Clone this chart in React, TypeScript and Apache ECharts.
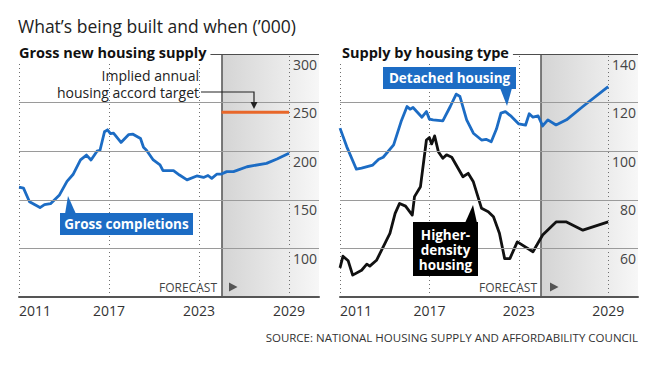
import React, { useEffect, useRef } from 'react';
import * as echarts from 'echarts';

// ---- data (thousands of dwellings) ----
const xTicks = [2011, 2017, 2023, 2029];
const forecastStart = 2024.5;

const grossYears = [2011, 2011.3, 2011.7, 2012.4, 2012.7, 2013.1, 2013.7, 2014.2, 2014.6, 2015.1, 2015.5, 2015.8, 2016.2, 2016.4, 2016.7, 2016.9, 2017.1, 2017.3, 2017.8, 2018.3, 2018.6, 2019.1, 2019.3, 2019.5, 2019.95, 2020.4, 2020.6, 2021.3, 2021.7, 2022.2, 2022.85, 2023.3, 2023.6, 2023.85, 2024.2, 2024.5, 2024.85, 2025.3, 2026.2, 2027.5, 2028.2, 2029];
const grossValues = [163, 162, 148, 142, 145, 146, 155, 169, 176, 191, 196, 191, 200, 201, 220, 222, 218, 218.5, 209, 217, 217.5, 213, 204, 201, 191, 186, 180, 180, 175.5, 170.5, 174.5, 173, 175, 172, 176.5, 176.5, 179, 179, 184, 187.5, 192, 198];

const targetYears = [2024.5, 2029];
const targetValues = [240, 240];

const detachedYears = [2011, 2011.45, 2012.1, 2012.45, 2013.2, 2013.6, 2013.9, 2014.6, 2015.1, 2015.5, 2015.7, 2015.9, 2016.5, 2016.8, 2017.0, 2017.25, 2017.9, 2018.4, 2018.8, 2019.05, 2019.5, 2019.95, 2020.5, 2020.8, 2021.15, 2021.5, 2021.8, 2022.1, 2022.5, 2023.0, 2023.45, 2023.7, 2023.95, 2024.3, 2024.6, 2024.95, 2025.5, 2026.2, 2027.3, 2029];
const detachedValues = [109.5, 101.9, 92.6, 93, 94.3, 96.7, 97.5, 102.6, 112.2, 118.4, 117.3, 118, 114, 116.3, 113.2, 112.9, 112.5, 118.4, 123.5, 122.5, 112.9, 107.4, 104.6, 104.9, 103.9, 109.1, 115.7, 116.3, 114.3, 111.2, 110.7, 115.4, 114, 114.5, 110.4, 112.9, 110.8, 112.9, 118.4, 126.6];

const densityYears = [2011, 2011.2, 2011.55, 2011.85, 2012.45, 2012.8, 2013.0, 2013.45, 2013.9, 2014.35, 2014.7, 2015.0, 2015.4, 2015.85, 2016.0, 2016.4, 2016.8, 2017.0, 2017.15, 2017.35, 2017.6, 2017.9, 2018.15, 2018.5, 2019.25, 2019.6, 2019.95, 2020.5, 2020.95, 2021.3, 2021.7, 2022.05, 2022.4, 2022.9, 2023.95, 2024.3, 2024.6, 2025.5, 2026.2, 2027.3, 2029];
const densityValues = [52, 56.8, 54.9, 49, 51, 53.5, 52.7, 55.1, 60.6, 66.2, 74.4, 78.5, 77.4, 73.7, 81.3, 85.4, 104.6, 105.6, 103, 106.3, 99.8, 97.1, 98.5, 97.5, 89.5, 90.9, 87.4, 76.5, 75.1, 73, 66.2, 55.8, 55.8, 62.7, 58.6, 62.3, 65.5, 70.9, 70.9, 67.5, 70.9];

const pair = (xs: number[], ys: number[]) => xs.map((x, i) => [x, ys[i]]);

export default function App() {
  const ref = useRef<HTMLDivElement>(null);

  useEffect(() => {
    const chart = echarts.init(ref.current!, null, { renderer: 'svg' });
    const F = '"Open Sans", sans-serif';
    const blue = '#1c6cc4';
    const gridColors = ['#9a9a9a', '#9a9a9a', '#9a9a9a', '#9a9a9a', '#9a9a9a', '#4d4d4d'];

    const shade = () =>
      new echarts.graphic.LinearGradient(0, 0, 1, 0, [
        { offset: 0, color: '#d4d4d4' },
        { offset: 1, color: '#f7f7f7' },
      ]);

    const xAxis = (gi: number) => ({
      type: 'value',
      gridIndex: gi,
      z: 10,
      min: 2011,
      max: 2031,
      axisLine: { show: true, lineStyle: { color: '#555', width: 2 } },
      axisTick: { show: false },
      splitLine: { show: false },
      axisLabel: {
        customValues: xTicks,
        alignMinLabel: 'left',
        margin: 6,
        fontSize: 14,
        fontFamily: F,
        color: '#333',
        formatter: (v: number) => String(v),
      },
    });

    const yAxis = (gi: number, min: number, max: number, interval: number) => ({
      type: 'value',
      gridIndex: gi,
      z: 10,
      position: 'right',
      min,
      max,
      interval,
      axisLine: { show: false },
      axisTick: { show: false },
      splitLine: { show: true, lineStyle: { color: gridColors, width: 1 } },
      axisLabel: {
        inside: true,
        margin: 2,
        verticalAlign: 'top',
        padding: [3, 0, 0, 0],
        fontSize: 14,
        fontFamily: F,
        color: '#444',
        formatter: (v: number) => (v === min ? '' : String(v)),
      },
    });

    const backdrop = (i: number) => ({
      type: 'line',
      xAxisIndex: i,
      yAxisIndex: i,
      data: [],
      z: 1,
      silent: true,
      markArea: {
        silent: true,
        itemStyle: { color: shade() },
        data: [[{ xAxis: forecastStart }, { xAxis: 2031 }]],
      },
      markLine: {
        silent: true,
        symbol: 'none',
        label: { show: false },
        data: [
          ...xTicks.map((t) => ({ xAxis: t, lineStyle: { type: [1, 3], color: '#6f6f6f', width: 1 } })),
          { xAxis: forecastStart, lineStyle: { type: 'solid', color: '#555', width: 1.5 } },
        ],
      },
    });

    const line = (i: number, data: number[][], color: string, width = 2.8) => ({
      type: 'line',
      xAxisIndex: i,
      yAxisIndex: i,
      data,
      z: 5,
      symbol: 'none',
      lineStyle: { color, width, cap: 'butt', join: 'round' },
    });

    const txt = (x: number, y: number, text: string, extra: any = {}) => ({
      type: 'text',
      x,
      y,
      z: 100,
      style: { text, font: `14px ${F}`, fill: '#222', verticalAlign: 'middle', ...extra },
    });

    const poly = (points: number[][], fill: string) => ({
      type: 'polygon',
      z: 100,
      shape: { points },
      style: { fill },
    });

    chart.setOption({
      animation: false,
      backgroundColor: '#fff',
      grid: [
        { left: 19, top: 54, width: 300, height: 243 },
        { left: 340, top: 54, width: 298, height: 243 },
      ],
      xAxis: [xAxis(0), xAxis(1)],
      yAxis: [yAxis(0, 50, 300, 50), yAxis(1, 40, 140, 20)],
      series: [
        backdrop(0),
        backdrop(1),
        line(0, pair(targetYears, targetValues), '#e8672a', 3),
        line(0, pair(grossYears, grossValues), blue),
        line(1, pair(detachedYears, detachedValues), blue),
        line(1, pair(densityYears, densityValues), '#111'),
      ],
      graphic: [
        txt(18, 25.5, 'What’s being built and when (’000)', { font: `17.5px ${F}`, fill: '#222' }),
        txt(19, 52, 'Gross new housing supply', {
          font: `bold 14.5px ${F}`,
          fill: '#111',
          backgroundColor: '#fff',
          padding: [3, 4, 3, 0],
        }),
        txt(340, 52, 'Supply by housing type', {
          font: `bold 14.5px ${F}`,
          fill: '#111',
          backgroundColor: '#fff',
          padding: [3, 4, 3, 2],
        }),
        txt(199, 75.5, 'Implied annual', { align: 'right', lineHeight: 16 }),
        txt(199, 92, 'housing accord target', { align: 'right', lineHeight: 16 }),
        {
          type: 'polyline',
          z: 100,
          shape: { points: [[201, 92], [254, 92], [254, 103]] },
          style: { stroke: '#222', lineWidth: 1.2, fill: null },
        },
        poly([[250.5, 102], [257.5, 102], [254, 109]], '#222'),
        // forecast labels
        txt(217, 287, 'FORECAST', { align: 'right', font: `12px ${F}`, fill: '#444' }),
        poly([[229, 282.5], [229, 291.5], [237.5, 287]], '#555'),
        txt(537, 287, 'FORECAST', { align: 'right', font: `12px ${F}`, fill: '#444' }),
        poly([[550, 282.5], [550, 291.5], [558.5, 287]], '#555'),
        // Gross completions callout
        poly([[65, 214], [76, 214], [68, 196]], blue),
        { type: 'rect', z: 100, shape: { x: 60, y: 213, width: 133, height: 22 }, style: { fill: blue } },
        txt(126.5, 224, 'Gross completions', { align: 'center', font: `bold 13.5px ${F}`, fill: '#fff' }),
        // Detached housing callout
        poly([[500, 88], [512, 88], [507, 106]], blue),
        { type: 'rect', z: 100, shape: { x: 383, y: 67, width: 133, height: 22 }, style: { fill: blue } },
        txt(449.5, 78, 'Detached housing', { align: 'center', font: `bold 13.5px ${F}`, fill: '#fff' }),
        // Higher-density callout
        poly([[465, 223], [477, 223], [473, 205]], '#000'),
        { type: 'rect', z: 100, shape: { x: 413, y: 222, width: 65, height: 54 }, style: { fill: '#000' } },
        txt(445.5, 249.5, 'Higher-\ndensity\nhousing', {
          align: 'center',
          font: `bold 13.5px ${F}`,
          fill: '#fff',
          lineHeight: 15,
        }),
        txt(638, 337, 'SOURCE: NATIONAL HOUSING SUPPLY AND AFFORDABILITY COUNCIL', {
          align: 'right',
          font: `11.5px ${F}`,
          fill: '#333',
        }),
      ],
    } as any);

    return () => chart.dispose();
  }, []);

  return (
    <div
      ref={ref}
      style={{ position: 'fixed', left: 0, top: 0, width: 661, height: 370, background: '#fff' }}
    />
  );
}
